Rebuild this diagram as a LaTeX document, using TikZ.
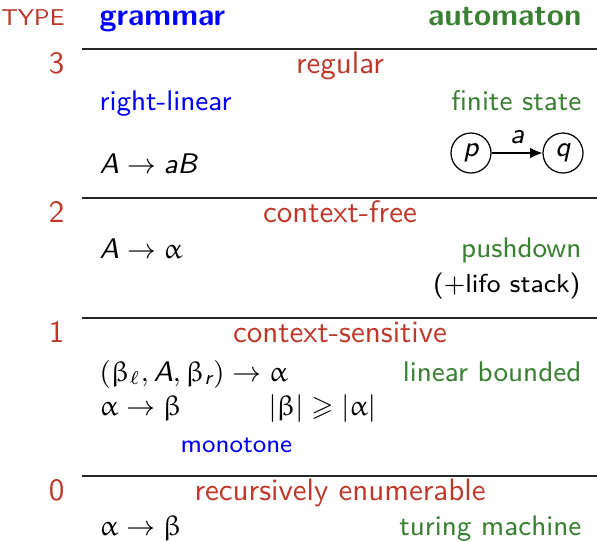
\documentclass[tikz,border=0pt]{standalone}
\usepackage{amsmath,amssymb,upgreek}
\usetikzlibrary{arrows.meta}
\definecolor{tred}{RGB}{190,55,40}
\definecolor{tgreen}{RGB}{58,128,50}
\definecolor{tblue}{RGB}{0,0,255}
\newcommand\si[1]{\text{\itshape #1}}
\newcommand\bigfont{\sffamily\fontsize{10}{12}\selectfont}
\newcommand\bodyfont{\sffamily\fontsize{9.15}{11}\selectfont}
\tikzset{
  every node/.style={font=\bodyfont, inner sep=0pt},
  typenum/.style={text=tred, anchor=base east, font=\bigfont},
  classname/.style={text=tred, anchor=base, font=\bigfont},
  gram/.style={text=tblue, anchor=base west},
  autom/.style={text=tgreen, anchor=base east},
  rule/.style={draw=black!85, line width=0.6pt},
  statebox/.style={circle, draw, line width=0.4pt, minimum size=12.9pt},
}
\begin{document}
\begin{tikzpicture}[x=0.3226pt, y=-0.3226pt]
\useasboundingbox (0,0) rectangle (597,541);
% header
\node[typenum, font=\sffamily\fontsize{7.4}{9}\selectfont] (type) at (65,25) {TYPE};
\node[gram, font=\bigfont\bfseries] (gr) at (99,25) {grammar};
\node[autom, font=\bigfont\bfseries] (au) at (582,25) {automaton};
% rules
\draw[rule] (82,49) -- (597,49);
\draw[rule] (82,198) -- (597,198);
\draw[rule] (82,318) -- (597,318);
\draw[rule] (82,476) -- (597,476);
% type 3
\node[typenum] (n3) at (65,73.5) {3};
\node[classname] (c3) at (340,73.5) {regular};
\node[gram] (g3) at (99,110) {right-linear};
\node[autom] (a3) at (582,110) {finite state};
\node[anchor=base west] (r3) at (99,173) {$\si{A}\rightarrow\si{aB}$};
\node[statebox] (p) at (471,153) {\itshape p};
\node[statebox] (q) at (563,153) {\itshape q};
\draw[-{Latex[length=4pt,width=3.5pt]}, line width=0.4pt] (p) -- node[midway, above=2.9pt] {\itshape a} (q);
% type 2
\node[typenum] (n2) at (65,222.5) {2};
\node[classname] (c2) at (340,222.5) {context-free};
\node[anchor=base west] (r2) at (99,258) {$\si{A}\rightarrow\upalpha$};
\node[autom] (a2) at (582,257) {pushdown};
\node[anchor=base east, font=\sffamily\fontsize{8.4}{10}\selectfont] (s2) at (581,292) {(+lifo stack)};
% type 1
\node[typenum] (n1) at (65,342.5) {1};
\node[classname] (c1) at (340,342.5) {context-sensitive};
\node[anchor=base west] (r1a) at (99,381) {$(\upbeta_\ell,\si{A},\upbeta_{\si{r}})\rightarrow\upalpha$};
\node[autom] (a1) at (582,381) {linear bounded};
\node[anchor=base west] (r1b) at (99,415) {$\upalpha\rightarrow\upbeta$};
\node[anchor=base west] (m1) at (268,415) {$|\upbeta|\geqslant|\upalpha|$};
\node[gram, font=\sffamily\fontsize{8.2}{10}\selectfont] (mono) at (180,452) {monotone};
% type 0
\node[typenum] (n0) at (65,500.5) {0};
\node[classname] (c0) at (340,500.5) {recursively enumerable};
\node[anchor=base west] (r0) at (99,535) {$\upalpha\rightarrow\upbeta$};
\node[autom] (a0) at (582,535) {turing machine};
\end{tikzpicture}
\end{document}
